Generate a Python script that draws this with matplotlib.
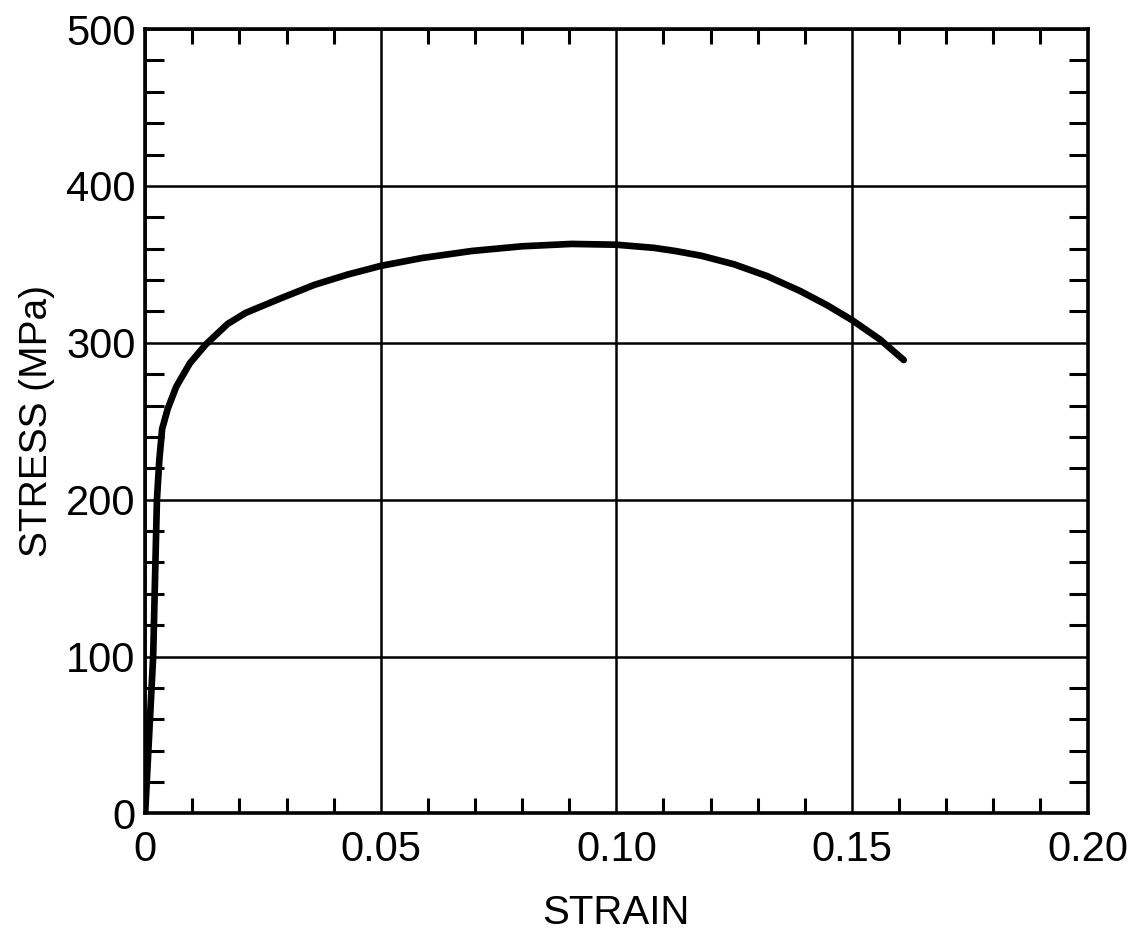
import matplotlib.pyplot as plt
from matplotlib.ticker import MultipleLocator, FixedLocator

# stress-strain curve
strain = [0.0, 0.0017, 0.0025, 0.0030, 0.0036, 0.0048, 0.0066, 0.0095, 0.0129,
          0.0175, 0.0213, 0.0285, 0.036, 0.043, 0.050, 0.0587, 0.0693, 0.080,
          0.0905, 0.100, 0.108, 0.1125, 0.118, 0.125, 0.132, 0.139, 0.1447,
          0.150, 0.156, 0.161]
stress = [0.0, 100.0, 200.0, 225.0, 245.0, 258.0, 272.0, 287.0, 299.0,
          312.0, 319.0, 328.0, 337.0, 343.5, 349.0, 354.0, 358.5, 361.5,
          363.0, 362.5, 360.5, 358.5, 355.5, 350.0, 342.5, 333.0, 324.0,
          314.5, 302.0, 289.0]

x_ticks = [0.0, 0.05, 0.10, 0.15, 0.20]
x_labels = ["0", "0.05", "0.10", "0.15", "0.20"]
y_ticks = [0, 100, 200, 300, 400, 500]
y_labels = ["0", "100", "200", "300", "400", "500"]

plt.rcParams["font.family"] = ["Liberation Sans", "DejaVu Sans"]

fig = plt.figure(figsize=(11.34, 9.36), dpi=100)
ax = fig.add_axes([0.128, 0.131, 0.831, 0.838])

ax.plot(strain, stress, color="black", linewidth=4.8, solid_capstyle="round",
        solid_joinstyle="round", zorder=3)

ax.set_xlim(0, 0.20)
ax.set_ylim(0, 500)

ax.xaxis.set_major_locator(FixedLocator(x_ticks))
ax.yaxis.set_major_locator(FixedLocator(y_ticks))
ax.set_xticklabels(x_labels)
ax.set_yticklabels(y_labels)
ax.xaxis.set_minor_locator(MultipleLocator(0.01))
ax.yaxis.set_minor_locator(MultipleLocator(20))

ax.grid(True, which="major", color="black", linewidth=1.8)
ax.tick_params(which="major", length=0, labelsize=30)
ax.tick_params(axis="x", which="major", pad=12)
ax.tick_params(axis="y", which="major", pad=7)
ax.tick_params(which="minor", direction="in", top=True, right=True,
               width=2.2, color="black")
ax.tick_params(axis="x", which="minor", length=11)
ax.tick_params(axis="y", which="minor", length=14)

for spine in ax.spines.values():
    spine.set_linewidth(2.6)
    spine.set_zorder(4)

ax.set_xlabel("STRAIN", fontsize=29, labelpad=17)
ax.set_ylabel("STRESS (MPa)", fontsize=28, labelpad=8)

fig.savefig("out.png", dpi=100)
